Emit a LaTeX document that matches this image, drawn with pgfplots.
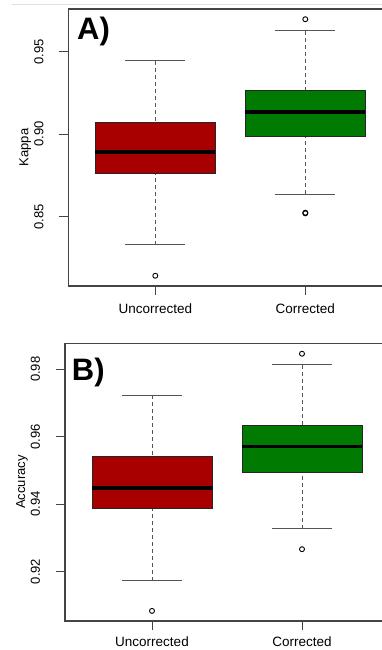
\documentclass[border=0pt]{standalone}
\usepackage{fontspec}
\setmainfont{Liberation Sans}
\usepackage{pgfplots}
\pgfplotsset{compat=1.18}
\usepgfplotslibrary{statistics}
\definecolor{boxred}{HTML}{A80000}
\definecolor{boxgreen}{HTML}{007A00}
\definecolor{axgray}{HTML}{444444}
\definecolor{whgray}{HTML}{555555}
\tikzset{
  rwhisker/.style={whgray, line width=0.9pt, dash pattern=on 4pt off 3pt},
  rcap/.style={whgray, line width=1pt, solid},
}
\pgfplotsset{
  rpanel/.style={
    scale only axis, width=324pt,
    xmin=0.42, xmax=2.58,
    xtick={1,2}, xticklabels={Uncorrected,Corrected},
    xtick pos=bottom, ytick pos=left,
    tick align=outside, major tick length=9pt,
    minor tick num=0,
    axis line style={axgray, line width=1.2pt},
    every tick/.style={axgray, line width=1pt},
    /pgf/number format/assume math mode=true,
    yticklabel style={/pgf/number format/fixed, /pgf/number format/fixed zerofill, /pgf/number format/precision=2},
    xticklabel style={font=\fontsize{13.5}{16}\selectfont, anchor=north, inner sep=0pt, yshift=-9pt},
    yticklabel style={font=\fontsize{13}{15}\selectfont, xshift=-16pt, rotate=90, anchor=base, inner sep=0pt},
    every axis y label/.style={at={(rel axis cs:0,0.5)}, xshift=-40pt, rotate=90, anchor=base, font=\fontsize{13}{15}\selectfont},
    clip=false,
  },
  rbox/.style={
    boxplot/draw direction=y,
    boxplot/box extend=0.8,
    boxplot/whisker extend=0.4,
    boxplot/every box/.style={draw=black!85, line width=0.8pt, fill=#1},
    boxplot/every median/.style={black, line width=3.5pt},
    boxplot/draw/lower whisker/.code={
      \draw[rwhisker] (boxplot box cs:\pgfplotsboxplotvalue{lower whisker},0.5) -- (boxplot box cs:\pgfplotsboxplotvalue{lower quartile},0.5);
      \draw[rcap] (boxplot whisker cs:\pgfplotsboxplotvalue{lower whisker},0) -- (boxplot whisker cs:\pgfplotsboxplotvalue{lower whisker},1);
    },
    boxplot/draw/upper whisker/.code={
      \draw[rwhisker] (boxplot box cs:\pgfplotsboxplotvalue{upper whisker},0.5) -- (boxplot box cs:\pgfplotsboxplotvalue{upper quartile},0.5);
      \draw[rcap] (boxplot whisker cs:\pgfplotsboxplotvalue{upper whisker},0) -- (boxplot whisker cs:\pgfplotsboxplotvalue{upper whisker},1);
    },
    mark=o, mark size=2.5pt, mark options={black, line width=0.9pt, solid},
    draw=black,
  },
}
\begin{document}
\begin{tikzpicture}[x=1pt,y=1pt]
\draw[black!12, line width=0.8pt] (12,646) -- (382,646);
% Panel A
\begin{axis}[rpanel, at={(68.3pt,364pt)}, anchor=south west, height=277pt,
  ymin=0.8080, ymax=0.9758, ytick={0.85,0.90,0.95}, ylabel={Kappa}]
\addplot[rbox=boxred, boxplot prepared={draw position=1,
  lower whisker=0.8330, lower quartile=0.8764, median=0.8891,
  upper quartile=0.9071, upper whisker=0.9444}]
  table[row sep=\\, y index=0] {0.8142\\};
\addplot[rbox=boxgreen, boxplot prepared={draw position=2,
  lower whisker=0.8637, lower quartile=0.8984, median=0.9135,
  upper quartile=0.9262, upper whisker=0.9627}]
  table[row sep=\\, y index=0] {0.8520\\ 0.8524\\ 0.9696\\};
\end{axis}
% Panel B
\begin{axis}[rpanel, at={(65pt,29pt)}, anchor=south west, height=277.7pt,
  ymin=0.9053, ymax=0.9877, ytick={0.92,0.94,0.96,0.98}, ylabel={Accuracy},
  xticklabel style={yshift=2pt}]
\addplot[rbox=boxred, boxplot prepared={draw position=1,
  lower whisker=0.9172, lower quartile=0.9388, median=0.9448,
  upper quartile=0.9541, upper whisker=0.9723}]
  table[row sep=\\, y index=0] {0.9083\\};
\addplot[rbox=boxgreen, boxplot prepared={draw position=2,
  lower whisker=0.9327, lower quartile=0.9493, median=0.9571,
  upper quartile=0.9632, upper whisker=0.9813}]
  table[row sep=\\, y index=0] {0.9266\\ 0.9846\\};
\end{axis}
\node[anchor=base west, inner sep=0pt, font=\bfseries\fontsize{31}{36}\selectfont] at (77,610.5) {A)};
\node[anchor=base west, inner sep=0pt, font=\bfseries\fontsize{31}{36}\selectfont] at (71.7,269.5) {B)};
\pgfresetboundingbox
\path[use as bounding box] (0,0) rectangle (382,650);
\end{tikzpicture}
\end{document}
